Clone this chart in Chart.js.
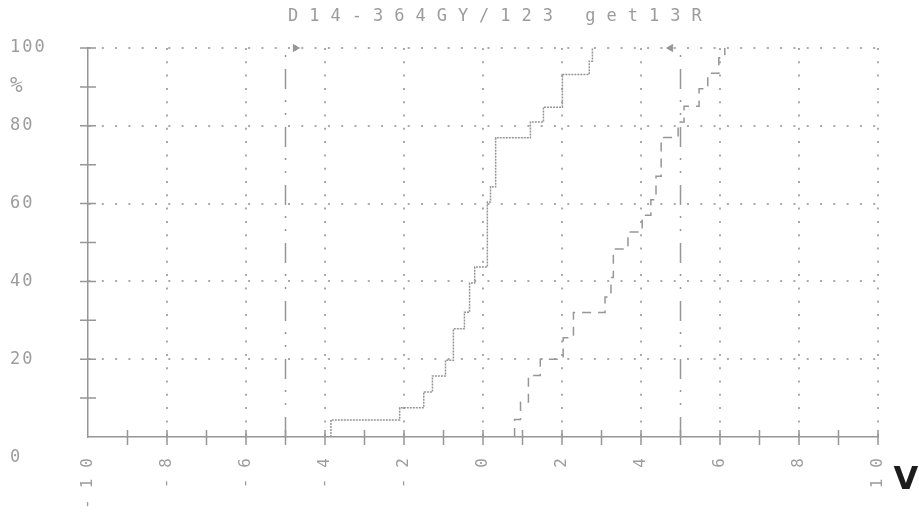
<!DOCTYPE html>
<html lang="de">
<head>
<meta charset="UTF-8">
<title>D14-364GY/123 get13R</title>
<style>
    body { margin: 0; background: #ffffff; }
    .wrap { position: relative; width: 919px; height: 515px; }
</style>
<script src="https://cdn.jsdelivr.net/npm/chart.js"></script>
</head>
<body>
<div class="wrap"><canvas id="kurve"></canvas></div>
<script>
// --- data ---
const title = 'D14-364GY/123 get13R';
const unitX = 'V';
const unitY = '%';

const xTicks = [-10, -8, -6, -4, -2, 0, 2, 4, 6, 8, 10];
const xTickLabels = ['-10', '-8', '-6', '-4', '-2', '0', '2', '4', '6', '8', '10'];
const yTicks = [0, 20, 40, 60, 80, 100];

// first step curve (volts where it jumps, percent after the jump)
const curve1V   = [-3.85, -3.85, -2.11, -1.50, -1.28, -0.95, -0.75, -0.47, -0.34, -0.21, 0.11, 0.19, 0.32, 1.20, 1.53, 2.01, 2.69, 2.77];
const curve1Pct = [0, 4.4, 7.5, 11.6, 15.7, 19.7, 27.8, 32.1, 39.6, 43.7, 60.4, 64.3, 76.9, 81.0, 84.8, 93.2, 96.6, 100];

// second step curve (dashed)
const curve2V   = [0.80, 0.80, 0.95, 1.15, 1.45, 2.03, 2.29, 3.09, 3.24, 3.30, 3.67, 4.03, 4.25, 4.38, 4.51, 4.94, 5.09, 5.47, 5.69, 5.97, 6.12];
const curve2Pct = [0, 4.5, 9, 15.8, 20, 25.5, 32, 36, 41, 48.3, 52.7, 57, 61, 67, 77, 81, 85, 89.5, 93.5, 97.5, 100];

// limit markers
const markerV = [-5, 5];
const markerPct = [0, 100];

const textGrey = '#9c9c9c';
const lineGrey = '#969696';
const gridGrey = '#aaaaaa';

const toPoints = (xs, ys) => xs.map((v, i) => ({ x: v, y: ys[i] }));

const printerLook = {
    id: 'printerLook',
    beforeDraw(chart) {
        chart.ctx.letterSpacing = '2px';
    },
    afterDraw(chart) {
        const { ctx, scales: { x, y } } = chart;
        ctx.save();

        // little crosses on both axes
        ctx.strokeStyle = lineGrey;
        ctx.lineWidth = 1.5;
        ctx.beginPath();
        for (let v = 10; v <= 100; v += 10) {
            const py = y.getPixelForValue(v);
            ctx.moveTo(x.left - 8, py);
            ctx.lineTo(x.left + 8, py);
        }
        for (let v = -9; v <= 10; v++) {
            const px = x.getPixelForValue(v);
            ctx.moveTo(px, y.bottom - 7);
            ctx.lineTo(px, y.bottom + 8);
        }
        ctx.stroke();

        // rotated x labels
        ctx.fillStyle = textGrey;
        ctx.font = '16px "DejaVu Sans Mono"';
        ctx.letterSpacing = '11px';
        ctx.textAlign = 'right';
        ctx.textBaseline = 'middle';
        xTicks.forEach((v, i) => {
            ctx.save();
            ctx.translate(x.getPixelForValue(v), y.bottom + 10);
            ctx.rotate(-Math.PI / 2);
            ctx.fillText(xTickLabels[i], 0, 0);
            ctx.restore();
        });

        // title
        ctx.textAlign = 'left';
        ctx.font = '17px "DejaVu Sans Mono"';
        ctx.letterSpacing = '11px';
        ctx.fillText(title, 288, 17);

        // unit
        ctx.letterSpacing = '0px';
        ctx.fillStyle = '#1c1c1c';
        ctx.font = 'bold 32px "DejaVu Sans"';
        ctx.textAlign = 'center';
        ctx.fillText(unitX, 906, 481);
        ctx.restore();
    }
};

const markerLine = v => ({
    data: markerPct.map(p => ({ x: v, y: p })),
    borderColor: lineGrey,
    borderWidth: 1.5,
    borderDash: [20, 12, 2, 11, 2, 11],
    pointRadius: 0
});

new Chart(document.getElementById('kurve'), {
    type: 'line',
    data: {
        datasets: [
            {
                data: toPoints(curve1V, curve1Pct),
                stepped: 'before',
                borderColor: lineGrey,
                borderWidth: 1.5,
                borderDash: [2, 1],
                pointRadius: 0
            },
            {
                data: toPoints(curve2V, curve2Pct),
                stepped: 'before',
                borderColor: lineGrey,
                borderWidth: 1.5,
                borderDash: [9, 7],
                pointRadius: 0
            },
            markerLine(markerV[0]),
            markerLine(markerV[1]),
            {
                data: markerV.map(v => ({ x: v + (v < 0 ? 0.25 : -0.25), y: 100 })),
                showLine: false,
                pointStyle: 'triangle',
                rotation: [90, -90],
                pointRadius: 4,
                backgroundColor: lineGrey,
                borderColor: lineGrey,
                clip: false
            }
        ]
    },
    options: {
        responsive: true,
        maintainAspectRatio: false,
        animation: false,
        layout: { padding: { top: 48, right: 41, left: 10, bottom: 0 } },
        plugins: { legend: { display: false }, tooltip: { enabled: false } },
        scales: {
            x: {
                type: 'linear',
                min: -10,
                max: 10,
                afterFit: s => { s.height = 78; },
                ticks: { stepSize: 1, display: false },
                grid: {
                    drawTicks: false,
                    lineWidth: 2,
                    color: c => (c.tick && c.tick.value % 2 === 0 && c.tick.value !== -10) ? gridGrey : 'transparent'
                },
                border: { display: true, color: lineGrey, width: 1.5, dash: [2, 11.3] }
            },
            y: {
                min: 0,
                max: 100,
                afterFit: s => { s.width = 78; },
                ticks: {
                    stepSize: 10,
                    autoSkip: false,
                    crossAlign: 'far',
                    color: textGrey,
                    font: c => ({ family: '"DejaVu Sans Mono"', size: (c.tick && c.tick.value === 90) ? 21 : 17 }),
                    callback: v => {
                        if (v === 0) return ['', '', String(yTicks[0])];
                        if (yTicks.includes(v)) return String(v);
                        if (v === 90) return unitY;
                        return '';
                    }
                },
                grid: {
                    drawTicks: false,
                    lineWidth: 2,
                    color: c => (c.tick && yTicks.includes(c.tick.value) && c.tick.value !== 0) ? gridGrey : 'transparent'
                },
                border: { display: true, color: lineGrey, width: 1.5, dash: [2, 11.3] }
            }
        }
    },
    plugins: [printerLook]
});
</script>
</body>
</html>
